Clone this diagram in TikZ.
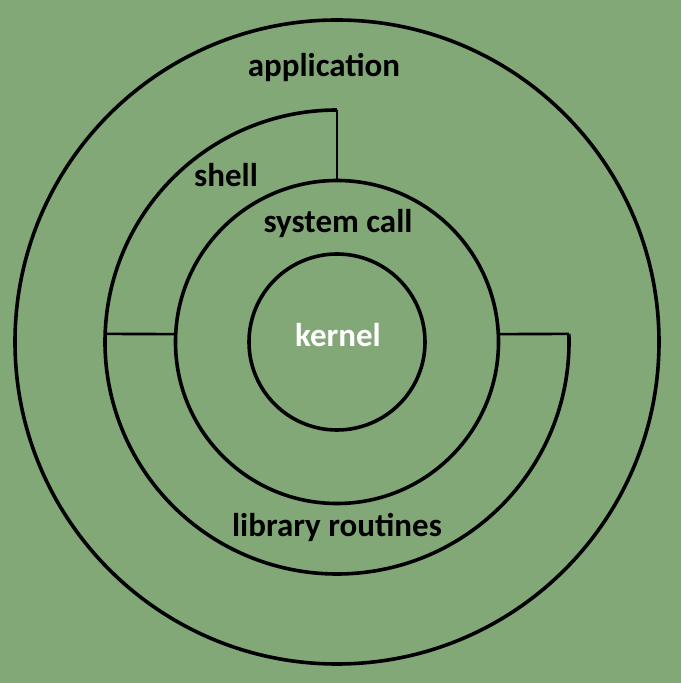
\documentclass[tikz,border=0pt]{standalone}
\usepackage{fontspec}
\setmainfont{Carlito}
\usetikzlibrary{calc}
\definecolor{bggreen}{HTML}{83A878}
\begin{document}
\begin{tikzpicture}[x=1pt,y=1pt,
  ring/.style={draw=black,line width=3.6pt},
  divider/.style={draw=black,line width=2.6pt},
  lbl/.style={font=\fontsize{33}{36}\selectfont\bfseries,anchor=base,inner sep=0pt},
  ]
\fill[bggreen] (0,0) rectangle (681,683);
\useasboundingbox (0,0) rectangle (681,683);
\coordinate (C) at (337,341);
% circles
\draw[ring] (C) circle (322);
\draw[ring] (C) circle (161.5);
\draw[ring] (C) circle (88);
% shell arc (upper left)
\coordinate (shellL) at ($(C)+(180:232)$);
\draw[ring] (shellL) arc[start angle=180,end angle=90,radius=232] coordinate (shellT);
% library arc (lower half)
\coordinate (libR) at ($(C)+(2:232)$);
\draw[ring] (libR) arc[start angle=2,end angle=-180,radius=232];
% dividers
\coordinate (scT) at ($(C)+(90:161.5)$);
\coordinate (scL) at ($(C)+(177.2:161.5)$);
\coordinate (scR) at ($(C)+(2.8:161.5)$);
\coordinate (midL) at ($(C)+(178:232)$);
\draw[divider] (shellT) -- (scT);
\draw[divider] (midL) -- (scL);
\draw[divider] (scR) -- (libR);
% labels
\node[lbl] (app) at (324,606) {application};
\node[lbl] (shell) at (226,496) {shell};
\node[lbl] (sys) at (338,450) {system call};
\node[lbl,text=white] (kern) at (338,336) {kernel};
\node[lbl] (lib) at (337,146) {library routines};
\end{tikzpicture}
\end{document}
